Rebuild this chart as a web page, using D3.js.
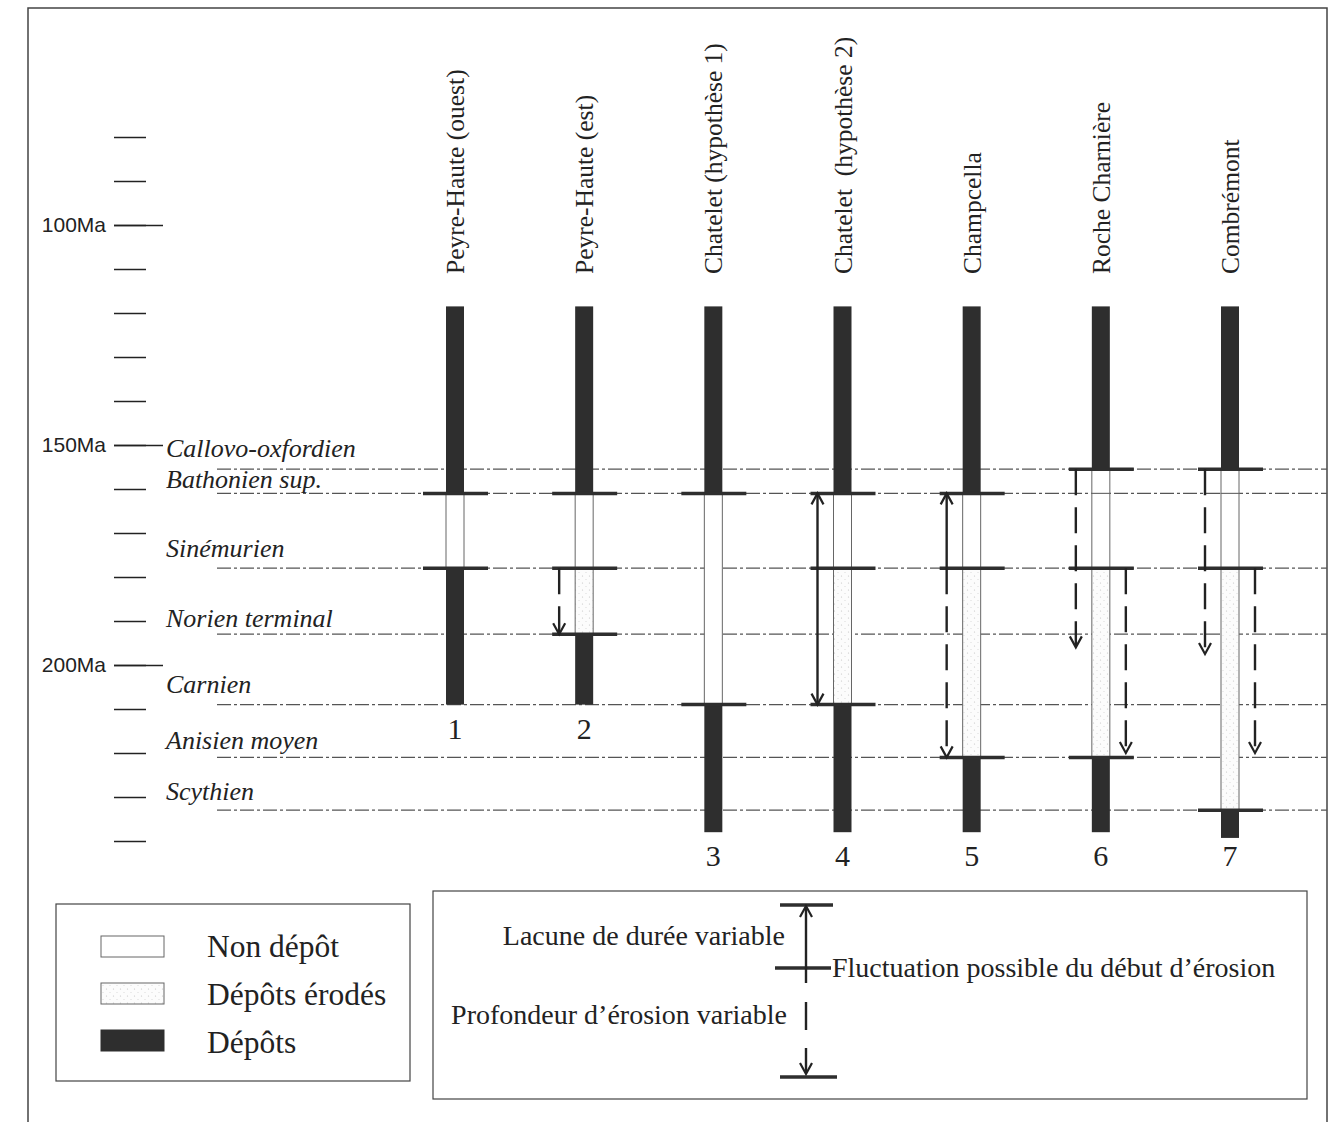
<!DOCTYPE html>
<html>
<head>
<meta charset="utf-8">
<script src="https://cdn.jsdelivr.net/npm/d3@7"></script>
<style>
  body { margin: 0; background: #fff; }
  .axis path.domain { display: none; }
  .axis line { stroke: #222; stroke-width: 1.5; }
  .axis text { font-family: "Liberation Sans", sans-serif; font-size: 21px; fill: #222; }
</style>
</head>
<body>
<script>
// Width and height
var w = 1340;
var h = 1122;

// Time scale ticks (Ma)
var minorTicks = [80, 90, 100, 110, 120, 130, 140, 150, 160, 170, 180, 190, 200, 210, 220, 230, 240];
var majorTicks = [100, 150, 200];

// Stage names and the age of their lower boundary (Ma)
var stageNames = ["Callovo-oxfordien", "Bathonien sup.", "Sinémurien", "Norien terminal",
                  "Carnien", "Anisien moyen", "Scythien"];
var stageBase = [155.5, 161, 178, 193, 209, 221, 233];

// Sections
var sections = ["Peyre-Haute (ouest)", "Peyre-Haute (est)", "Chatelet (hypothèse 1)",
                "Chatelet  (hypothèse 2)", "Champcella", "Roche Charnière", "Combrémont"];
var sectionNums = ["1", "2", "3", "4", "5", "6", "7"];

// Intervals of each section: [top Ma, bottom Ma, type]
// dep = Dépôts, non = Non dépôt, ero = Dépôts érodés
var intervals = [
  [[118.5, 161, "dep"], [161, 178, "non"], [178, 209, "dep"]],
  [[118.5, 161, "dep"], [161, 178, "non"], [178, 193, "ero"], [193, 209, "dep"]],
  [[118.5, 161, "dep"], [161, 209, "non"], [209, 238, "dep"]],
  [[118.5, 161, "dep"], [161, 178, "non"], [178, 209, "ero"], [209, 238, "dep"]],
  [[118.5, 161, "dep"], [161, 178, "non"], [178, 221, "ero"], [221, 238, "dep"]],
  [[118.5, 155.5, "dep"], [155.5, 161, "non"], [161, 178, "non"], [178, 221, "ero"], [221, 238, "dep"]],
  [[118.5, 155.5, "dep"], [155.5, 161, "non"], [161, 178, "non"], [178, 233, "ero"], [233, 239.3, "dep"]]
];

// Horizontal boundary marks of each section (Ma)
var marks = [
  [161, 178],
  [161, 178, 193],
  [161, 209],
  [161, 178, 209],
  [161, 178, 221],
  [155.5, 178, 221],
  [155.5, 178, 233]
];

// Arrows: side (-1 left, +1 right), from / to (Ma), dashed, double head
var arrows = [
  [],
  [{side: -1, from: 178, to: 193, dashed: true, both: false}],
  [],
  [{side: -1, from: 161, to: 209, dashed: false, both: true}],
  [{side: -1, from: 178, to: 161, dashed: false, both: false},
   {side: -1, from: 178, to: 221, dashed: true, both: false}],
  [{side: -1, from: 155.5, to: 196, dashed: true, both: false},
   {side: 1, from: 178, to: 220, dashed: true, both: false}],
  [{side: -1, from: 155.5, to: 197.5, dashed: true, both: false},
   {side: 1, from: 178, to: 220, dashed: true, both: false}]
];

var ink = "#2e2e2e";
var barW = 18;

// Scales
var yScale = d3.scaleLinear()
              .domain([80, 240])
              .range([137, 841]);

var xScale = d3.scalePoint()
              .domain(sections)
              .range([455, 1230]);

// Create SVG element
var svg = d3.select("body")
            .append("svg")
            .attr("width", w)
            .attr("height", h);

// Stipple pattern for eroded deposits
var pat = svg.append("defs").append("pattern")
  .attr("id", "stipple")
  .attr("width", 7).attr("height", 7)
  .attr("patternUnits", "userSpaceOnUse");
pat.append("rect").attr("width", 7).attr("height", 7).attr("fill", "#fcfcfc");
pat.append("circle").attr("cx", 1.5).attr("cy", 2).attr("r", 0.6).attr("fill", "#c4c4c4");
pat.append("circle").attr("cx", 5).attr("cy", 5.5).attr("r", 0.5).attr("fill", "#d0d0d0");

// Outer frame (left, top, right)
svg.append("path")
  .attr("d", "M28,1122 L28,8 L1327,8 L1327,1122")
  .attr("fill", "none")
  .attr("stroke", "#444")
  .attr("stroke-width", 1.5);

// Minor ticks
svg.append("g")
  .attr("class", "axis")
  .attr("transform", "translate(146,0)")
  .call(d3.axisLeft(yScale).tickValues(minorTicks).tickSize(32).tickFormat(""));

// Major ticks with labels
svg.append("g")
  .attr("class", "axis")
  .attr("transform", "translate(163,0)")
  .call(d3.axisLeft(yScale).tickValues(majorTicks).tickSize(49).tickPadding(8)
        .tickFormat(function(d) { return d + "Ma"; }));

// Stage boundary lines (dash-dot)
svg.selectAll("line.stage")
  .data(stageBase)
  .enter()
  .append("line")
  .attr("class", "stage")
  .attr("x1", 217)
  .attr("x2", 1327)
  .attr("y1", function(d) { return yScale(d); })
  .attr("y2", function(d) { return yScale(d); })
  .attr("stroke", "#555")
  .attr("stroke-width", 1.2)
  .attr("stroke-dasharray", "14,3,3,3");

// Stage labels, placed a little above their lower boundary
var labelLift = [12, 5, 11, 7, 12, 8, 10];
svg.selectAll("text.stage")
  .data(stageNames)
  .enter()
  .append("text")
  .attr("class", "stage")
  .attr("x", 166)
  .attr("y", function(d, i) { return yScale(stageBase[i]) - labelLift[i]; })
  .attr("font-family", "'Liberation Serif', serif")
  .attr("font-style", "italic")
  .attr("font-size", "26px")
  .attr("fill", "#222")
  .text(function(d) { return d; });

// Section headers
svg.selectAll("text.head")
  .data(sections)
  .enter()
  .append("text")
  .attr("class", "head")
  .attr("transform", function(d) { return "translate(" + (xScale(d) + 9) + ",274) rotate(-90)"; })
  .attr("font-family", "'Liberation Serif', serif")
  .attr("font-size", "25.5px")
  .attr("fill", "#222")
  .style("white-space", "pre")
  .text(function(d) { return d; });

function fillFor(t) {
  if (t === "dep") return ink;
  if (t === "ero") return "url(#stipple)";
  return "#fff";
}

function arrowHead(g, x, y, dir) {
  g.append("path")
    .attr("d", "M" + (x - 6) + "," + (y - dir * 11) + " L" + x + "," + y + " L" + (x + 6) + "," + (y - dir * 11))
    .attr("fill", "none")
    .attr("stroke", "#222")
    .attr("stroke-width", 2.2);
}

sections.forEach(function(name, i) {
  var cx = xScale(name);
  var g = svg.append("g");

  // Column intervals
  g.selectAll("rect")
    .data(intervals[i])
    .enter()
    .append("rect")
    .attr("x", cx - barW / 2)
    .attr("width", barW)
    .attr("y", function(d) { return yScale(d[0]); })
    .attr("height", function(d) { return yScale(d[1]) - yScale(d[0]); })
    .attr("fill", function(d) { return fillFor(d[2]); })
    .attr("stroke", function(d) { return d[2] === "dep" ? ink : "#666"; })
    .attr("stroke-width", function(d) { return d[2] === "dep" ? 0 : 1; });

  // Boundary marks
  g.selectAll("line.mark")
    .data(marks[i])
    .enter()
    .append("line")
    .attr("class", "mark")
    .attr("x1", cx - 32)
    .attr("x2", cx + 33)
    .attr("y1", function(d) { return yScale(d); })
    .attr("y2", function(d) { return yScale(d); })
    .attr("stroke", ink)
    .attr("stroke-width", 3.5);

  // Arrows
  arrows[i].forEach(function(a) {
    var x = cx + a.side * 25;
    var y0 = yScale(a.from), y1 = yScale(a.to);
    var dir = y1 > y0 ? 1 : -1;
    g.append("line")
      .attr("x1", x).attr("x2", x)
      .attr("y1", y0).attr("y2", y1 - dir * 2)
      .attr("stroke", "#222")
      .attr("stroke-width", 2.4)
      .attr("stroke-dasharray", a.dashed ? "26,12" : null);
    arrowHead(g, x, y1, dir);
    if (a.both) arrowHead(g, x, y0, -dir);
  });

  // Section number
  var last = intervals[i][intervals[i].length - 1][1];
  g.append("text")
    .attr("x", cx)
    .attr("y", yScale(Math.min(last, 238)) + 34)
    .attr("text-anchor", "middle")
    .attr("font-family", "'Liberation Serif', serif")
    .attr("font-size", "30px")
    .attr("fill", "#222")
    .text(sectionNums[i]);
});

// Legend 1: fills
var legendTypes = ["non", "ero", "dep"];
var legendNames = ["Non dépôt", "Dépôts érodés", "Dépôts"];

var lg = svg.append("g");
lg.append("rect")
  .attr("x", 56).attr("y", 904).attr("width", 354).attr("height", 177)
  .attr("fill", "none").attr("stroke", "#444").attr("stroke-width", 1.2);

lg.selectAll("rect.sw")
  .data(legendTypes)
  .enter()
  .append("rect")
  .attr("class", "sw")
  .attr("x", 101)
  .attr("y", function(d, i) { return 936 + i * 47; })
  .attr("width", 63)
  .attr("height", 21)
  .attr("fill", function(d) { return fillFor(d); })
  .attr("stroke", function(d) { return d === "dep" ? ink : "#666"; })
  .attr("stroke-width", 1);

lg.selectAll("text")
  .data(legendNames)
  .enter()
  .append("text")
  .attr("x", 207)
  .attr("y", function(d, i) { return 957 + i * 48; })
  .attr("font-family", "'Liberation Serif', serif")
  .attr("font-size", "31.5px")
  .attr("fill", "#222")
  .text(function(d) { return d; });

// Legend 2: symbols
var lg2 = svg.append("g");
lg2.append("rect")
  .attr("x", 433).attr("y", 891).attr("width", 874).attr("height", 208)
  .attr("fill", "none").attr("stroke", "#444").attr("stroke-width", 1.2);

var ax = 806;
[[780, 833, 905], [775, 831, 968], [780, 837, 1077]].forEach(function(b) {
  lg2.append("line")
    .attr("x1", b[0]).attr("x2", b[1]).attr("y1", b[2]).attr("y2", b[2])
    .attr("stroke", ink).attr("stroke-width", 3.5);
});
lg2.append("line")
  .attr("x1", ax).attr("x2", ax).attr("y1", 907).attr("y2", 983)
  .attr("stroke", "#222").attr("stroke-width", 2.4);
arrowHead(lg2, ax, 906, -1);
lg2.append("line")
  .attr("x1", ax).attr("x2", ax).attr("y1", 1002).attr("y2", 1030)
  .attr("stroke", "#222").attr("stroke-width", 2.4);
lg2.append("line")
  .attr("x1", ax).attr("x2", ax).attr("y1", 1048).attr("y2", 1072)
  .attr("stroke", "#222").attr("stroke-width", 2.4);
arrowHead(lg2, ax, 1074, 1);

var legendNotes = [
  {text: "Lacune de durée variable", x: 785, y: 945, anchor: "end"},
  {text: "Fluctuation possible du début d’érosion", x: 832, y: 977, anchor: "start"},
  {text: "Profondeur d’érosion variable", x: 787, y: 1024, anchor: "end"}
];
lg2.selectAll("text")
  .data(legendNotes)
  .enter()
  .append("text")
  .attr("x", function(d) { return d.x; })
  .attr("y", function(d) { return d.y; })
  .attr("text-anchor", function(d) { return d.anchor; })
  .attr("font-family", "'Liberation Serif', serif")
  .attr("font-size", "28px")
  .attr("fill", "#222")
  .text(function(d) { return d.text; });
</script>
</body>
</html>
